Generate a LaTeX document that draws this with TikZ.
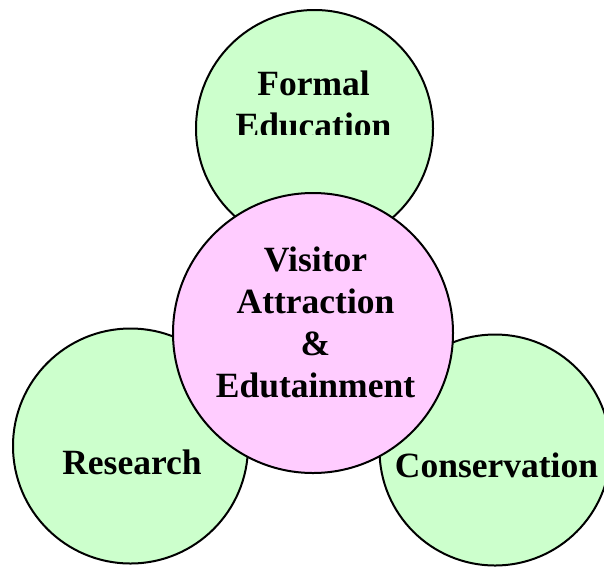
\documentclass[tikz,border=0pt]{standalone}
\usepackage{fontspec}
\setmainfont{Liberation Serif}
\begin{document}
\begin{tikzpicture}[x=1pt,y=-1pt,
  ring/.style={circle,draw=black,line width=2pt,inner sep=0pt},
  greenring/.style={ring,fill=greenfill},
  pinkring/.style={ring,fill=pinkfill},
  label/.style={anchor=base,inner sep=0pt,font=\bfseries\fontsize{35.5}{42}\selectfont}]
\definecolor{greenfill}{HTML}{CCFFCC}
\definecolor{pinkfill}{HTML}{FFCCFF}
\useasboundingbox (0,0) rectangle (604,568);
\clip (0,0) rectangle (604,568);
% outer circles
\node[greenring,minimum size=237pt] (formal) at (314.5,128.5) {};
\node[greenring,minimum size=235pt] (research) at (130.5,446) {};
\node[greenring,minimum size=231pt] (conservation) at (495,450) {};
% label of the upper circle, cut off below the first line
\begin{scope}
  \clip (0,0) rectangle (604,134);
  \node[label] (formalA) at (313.5,95) {Formal};
  \node[label] (formalB) at (313.5,137) {Education};
\end{scope}
\node[label] (researchT) at (132,474) {Research};
\node[label] (conservationT) at (496.5,477) {Conservation};
% central circle
\node[pinkring,minimum size=280pt] (visitor) at (313,333) {};
\node[label] (v1) at (315.5,271.7) {Visitor};
\node[label] (v2) at (315.5,313.7) {Attraction};
\node[label] (v3) at (315.5,355.7) {\&};
\node[label] (v4) at (315.5,397.7) {Edutainment};
\end{tikzpicture}
\end{document}
